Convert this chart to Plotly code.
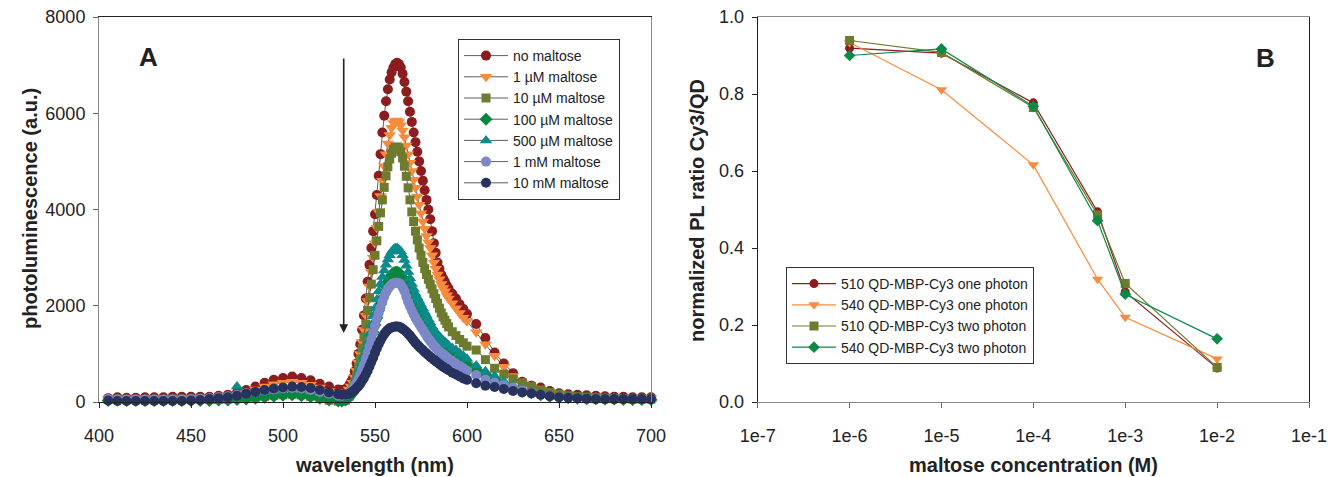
import plotly.graph_objects as go

# ---------------- Panel A data (wavelength in nm, PL in a.u.) ----------------
wavelength = ([405, 410, 415, 420, 425, 430, 435, 440, 445, 450, 455, 460, 465,
               470, 475, 480, 485, 490, 495, 500, 505, 510, 515, 520, 525, 530, 532, 534]
              + list(range(536, 591, 1))
              + [592, 594, 596, 598, 600]
              + list(range(605, 701, 5)))

no_maltose = ([80, 100, 90, 90, 100, 100, 100, 110, 110, 110, 110, 110, 130, 150, 190, 250, 320, 400, 460, 500, 530, 500, 450, 380, 320, 260, 250, 270]
              + [350, 420, 500, 640, 800, 1000, 1200, 1500, 1800, 2150, 2500, 2850, 3200, 3550, 3900, 4300, 4700, 5150, 5600, 5950,
                 6250, 6500, 6700, 6850, 6950, 7020, 7050, 7020, 6950, 6820, 6650, 6450, 6250, 6030, 5820, 5600, 5400, 5200, 5000,
                 4800, 4600, 4400, 4200, 4000, 3800, 3550, 3300, 3100, 2900, 2770, 2650, 2570, 2500, 2420, 2350]
              + [2250, 2150, 2030, 1930, 1830]
              + [1620, 1330, 1030, 800, 600, 420, 340, 300, 230, 180, 160, 150, 140, 130, 120, 110, 110, 100, 100, 100])
m1uM = ([60, 80, 70, 70, 70, 80, 80, 80, 80, 80, 80, 90, 100, 120, 150, 200, 260, 320, 370, 400, 420, 400, 360, 300, 230, 180, 170, 200]
        + [260, 320, 400, 510, 650, 820, 1000, 1250, 1500, 1800, 2100, 2400, 2700, 3000, 3300, 3620, 3950, 4280, 4600, 4900,
           5150, 5370, 5550, 5700, 5800, 5840, 5850, 5820, 5750, 5640, 5500, 5330, 5150, 4970, 4800, 4620, 4450, 4270, 4100,
           3920, 3750, 3600, 3450, 3320, 3200, 3050, 2900, 2770, 2650, 2550, 2450, 2370, 2300, 2220, 2150]
        + [2050, 1950, 1850, 1750, 1680]
        + [1450, 1200, 960, 730, 540, 390, 300, 240, 190, 160, 140, 130, 120, 110, 100, 100, 90, 90, 80, 80])
m10uM = ([50, 60, 50, 50, 50, 50, 50, 60, 60, 60, 60, 50, 50, 60, 70, 80, 100, 120, 140, 150, 160, 150, 120, 80, 40, 20, 20, 40]
         + [120, 200, 300, 420, 550, 720, 900, 1120, 1350, 1620, 1900, 2170, 2450, 2750, 3050, 3350, 3650, 3930, 4200, 4460,
            4700, 4890, 5050, 5170, 5250, 5290, 5300, 5270, 5200, 5070, 4900, 4690, 4450, 4200, 3950, 3750, 3550, 3370, 3200,
            3050, 2900, 2770, 2650, 2550, 2450, 2350, 2250, 2150, 2050, 1950, 1850, 1770, 1700, 1630, 1560]
         + [1460, 1380, 1300, 1230, 1160]
         + [1080, 880, 700, 580, 480, 400, 320, 250, 200, 160, 130, 110, 100, 90, 80, 70, 70, 60, 60, 60])
m100uM = ([30, 40, 30, 30, 30, 30, 30, 30, 30, 30, 30, 30, 40, 40, 50, 60, 80, 100, 120, 140, 150, 130, 110, 80, 40, 20, 20, 40]
          + [100, 150, 200, 270, 340, 430, 520, 630, 750, 870, 1000, 1150, 1300, 1450, 1600, 1750, 1900, 2030, 2150, 2280,
             2400, 2500, 2580, 2640, 2680, 2695, 2700, 2680, 2650, 2580, 2500, 2400, 2300, 2200, 2100, 2020, 1950, 1870, 1800,
             1740, 1680, 1620, 1560, 1500, 1450, 1390, 1340, 1290, 1250, 1210, 1170, 1130, 1100, 1070, 1040]
          + [980, 930, 880, 830, 780]
          + [660, 550, 460, 370, 290, 230, 190, 150, 120, 100, 90, 80, 70, 70, 60, 60, 50, 50, 50, 50])
m500uM = ([40, 50, 40, 40, 40, 50, 50, 50, 60, 60, 70, 80, 100, 120, 320, 180, 210, 230, 250, 270, 290, 280, 250, 220, 180, 150, 150, 160]
          + [220, 270, 330, 400, 480, 580, 700, 820, 950, 1100, 1250, 1420, 1600, 1780, 1950, 2130, 2300, 2450, 2600, 2730,
             2850, 2960, 3050, 3120, 3170, 3195, 3200, 3170, 3130, 3050, 2950, 2830, 2700, 2570, 2450, 2350, 2250, 2170, 2100,
             2020, 1950, 1870, 1800, 1720, 1650, 1570, 1500, 1450, 1400, 1360, 1320, 1280, 1250, 1210, 1180]
          + [1120, 1080, 1020, 960, 900]
          + [760, 640, 540, 430, 330, 260, 210, 170, 140, 120, 110, 100, 90, 90, 80, 80, 70, 70, 70, 70])
m1mM = ([60, 50, 50, 50, 50, 50, 50, 50, 50, 60, 70, 80, 100, 120, 150, 180, 210, 240, 260, 280, 290, 280, 250, 210, 170, 130, 130, 140]
        + [190, 230, 280, 340, 400, 480, 560, 670, 780, 900, 1030, 1160, 1300, 1440, 1580, 1720, 1850, 1970, 2080, 2190,
           2280, 2350, 2400, 2440, 2470, 2480, 2480, 2470, 2440, 2380, 2300, 2190, 2080, 1990, 1900, 1820, 1750, 1680, 1620,
           1560, 1500, 1440, 1380, 1320, 1270, 1220, 1170, 1130, 1090, 1050, 1020, 990, 960, 930, 900]
        + [850, 800, 750, 700, 650]
        + [560, 470, 400, 350, 300, 240, 190, 150, 120, 100, 90, 80, 70, 70, 60, 60, 60, 60, 60, 60])
m10mM = ([30, 20, 20, 20, 20, 20, 20, 20, 20, 30, 40, 60, 80, 100, 130, 170, 210, 250, 280, 300, 320, 310, 290, 250, 200, 160, 150, 150]
         + [170, 190, 220, 250, 290, 330, 380, 440, 500, 570, 650, 740, 830, 920, 1020, 1110, 1200, 1280, 1350, 1410,
            1460, 1500, 1530, 1550, 1560, 1567, 1570, 1565, 1550, 1520, 1490, 1460, 1420, 1380, 1330, 1280, 1230, 1190, 1150,
            1110, 1080, 1040, 1010, 970, 940, 910, 880, 850, 820, 790, 760, 735, 710, 685, 660]
         + [610, 570, 530, 490, 460]
         + [390, 340, 310, 270, 230, 200, 180, 150, 120, 100, 90, 80, 70, 60, 60, 60, 60, 60, 60, 60])

spectra_names = ["no maltose", "1 \u00b5M maltose", "10 \u00b5M maltose", "100 \u00b5M maltose",
                 "500 \u00b5M maltose", "1 mM maltose", "10 mM maltose"]
spectra_values = [no_maltose, m1uM, m10uM, m100uM, m500uM, m1mM, m10mM]
spectra_colors = ["#8B1C1F", "#F88A3A", "#6E7A2E", "#08853F", "#0D8B8B", "#7C88C8", "#28325F"]
spectra_symbols = ["circle", "triangle-down", "square", "diamond", "triangle-up", "circle", "circle"]
spectra_sizes = [10, 11, 9, 10, 11, 10, 10]

# ---------------- Panel B data ----------------
concentration = [1e-6, 1e-5, 1e-4, 5e-4, 1e-3, 1e-2]
qd510_one = [0.919, 0.906, 0.777, 0.494, 0.286, 0.088]
qd540_one = [0.934, 0.811, 0.616, 0.319, 0.220, 0.112]
qd510_two = [0.939, 0.908, 0.765, 0.486, 0.308, 0.090]
qd540_two = [0.900, 0.917, 0.768, 0.471, 0.280, 0.164]

ratio_names = ["510 QD-MBP-Cy3 one photon", "540 QD-MBP-Cy3 one photon",
               "510 QD-MBP-Cy3 two photon", "540 QD-MBP-Cy3 two photon"]
ratio_values = [qd510_one, qd540_one, qd510_two, qd540_two]
ratio_colors = ["#8B1C1F", "#F98B3C", "#6E7A2E", "#0A8A46"]
ratio_symbols = ["circle", "triangle-down", "square", "diamond"]
ratio_sizes = [9, 10, 9, 9]

xtick_vals_b = [1e-7, 1e-6, 1e-5, 1e-4, 1e-3, 1e-2, 1e-1]
xtick_text_b = ["1e-7", "1e-6", "1e-5", "1e-4", "1e-3", "1e-2", "1e-1"]

FONT = "Liberation Sans, Arial, sans-serif"
TXT = "#222222"

fig = go.Figure()

for name, vals, col, sym, sz in zip(spectra_names, spectra_values, spectra_colors, spectra_symbols, spectra_sizes):
    fig.add_trace(go.Scatter(
        x=wavelength, y=vals, name=name, mode="lines+markers",
        line=dict(color="#333333", width=0.8),
        marker=dict(color=col, symbol=sym, size=sz, line=dict(width=0)),
        xaxis="x", yaxis="y", legend="legend", cliponaxis=False))

for name, vals, col, sym, sz in zip(ratio_names, ratio_values, ratio_colors, ratio_symbols, ratio_sizes):
    fig.add_trace(go.Scatter(
        x=concentration, y=vals, name=name, mode="lines+markers",
        line=dict(color=col, width=1.2),
        marker=dict(color=col, symbol=sym, size=sz, line=dict(width=0)),
        xaxis="x2", yaxis="y2", legend="legend2", cliponaxis=False))

W, H = 1337, 477
ydom = [(H - 402) / H, (H - 17) / H]

common = dict(ticks="outside", ticklen=5, showgrid=False, zeroline=False, mirror=True, automargin=False,
              tickfont=dict(family=FONT, size=18, color=TXT))

fig.update_layout(
    width=W, height=H, margin=dict(l=0, r=0, t=0, b=0),
    paper_bgcolor="white", plot_bgcolor="white",
    font=dict(family=FONT, color=TXT),
    xaxis=dict(domain=[99 / W, 651 / W], range=[400, 700], dtick=50, anchor="y",
               showline=True, linecolor="#222", linewidth=1, tickcolor="#222", ticklabelstandoff=12, **common),
    yaxis=dict(domain=ydom, range=[0, 8000], dtick=2000, anchor="x",
               showline=True, linecolor="#888", linewidth=1, tickcolor="#666", ticklabelstandoff=4, **common),
    xaxis2=dict(domain=[757.7 / W, 1309 / W], type="log", range=[-7, -1], anchor="y2",
                tickvals=xtick_vals_b, ticktext=xtick_text_b,
                showline=True, linecolor="#888", linewidth=1, tickcolor="#666", ticklabelstandoff=12, **common),
    yaxis2=dict(domain=ydom, range=[0, 1.0], dtick=0.2, tickformat=".1f", anchor="x2",
                showline=True, linecolor="#222", linewidth=1, tickcolor="#222", ticklabelstandoff=4, **common),
    legend=dict(x=458 / W, y=1 - 39 / H, xanchor="left", yanchor="top", itemwidth=44,
                bgcolor="white", bordercolor="#333", borderwidth=1,
                font=dict(family=FONT, size=14, color=TXT), tracegroupgap=0),
    legend2=dict(x=786 / W, y=1 - 267 / H, xanchor="left", yanchor="top", itemwidth=44,
                 bgcolor="white", bordercolor="#333", borderwidth=1,
                 font=dict(family=FONT, size=14, color=TXT), tracegroupgap=0),
    showlegend=True,
)

title_font = dict(family=FONT, size=20, color=TXT)
fig.add_annotation(xref="paper", yref="paper", x=375 / W, y=1 - 465 / H, text="<b>wavelength (nm)</b>",
                   showarrow=False, font=title_font, xanchor="center", yanchor="middle")
fig.add_annotation(xref="paper", yref="paper", x=30 / W, y=1 - 209 / H, text="<b>photoluminescence (a.u.)</b>",
                   showarrow=False, font=title_font, xanchor="center", yanchor="middle", textangle=-90)
fig.add_annotation(xref="paper", yref="paper", x=1033 / W, y=1 - 465 / H, text="<b>maltose concentration (M)</b>",
                   showarrow=False, font=title_font, xanchor="center", yanchor="middle")
fig.add_annotation(xref="paper", yref="paper", x=697 / W, y=1 - 210 / H, text="<b>normalized PL ratio Cy3/QD</b>",
                   showarrow=False, font=title_font, xanchor="center", yanchor="middle", textangle=-90)

fig.add_annotation(xref="x", yref="y", x=533, y=1434, axref="x", ayref="y", ax=533, ay=7169,
                   text="", showarrow=True, arrowhead=2, arrowsize=1.1, arrowwidth=1.6, arrowcolor="#222")
fig.add_annotation(xref="paper", yref="paper", x=148 / W, y=1 - 57 / H, text="<b>A</b>", showarrow=False,
                   font=dict(family=FONT, size=26, color=TXT), xanchor="center", yanchor="middle")
fig.add_annotation(xref="paper", yref="paper", x=1265 / W, y=1 - 58 / H, text="<b>B</b>", showarrow=False,
                   font=dict(family=FONT, size=26, color=TXT), xanchor="center", yanchor="middle")

fig.write_html("out.html", config={"displayModeBar": False},
               post_script="document.body.style.margin='0';document.body.style.overflow='hidden';")
